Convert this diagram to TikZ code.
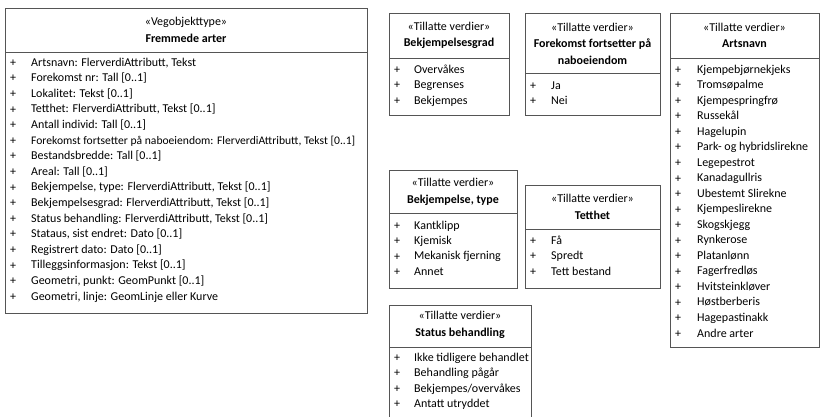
\documentclass[tikz,border=0pt]{standalone}
\usepackage{fontspec}
\setmainfont{Carlito}
\definecolor{umlGray}{RGB}{85,85,85}
\usepackage{tikz}

\begin{document}
\begin{tikzpicture}[x=1pt, y=-1pt,
    umlbox/.style={rectangle, draw=umlGray, line width=0.8pt, anchor=north west, inner sep=0pt},
    divider/.style={draw=umlGray, line width=0.8pt},
    head/.style={align=center, inner sep=0pt, font=\fontsize{12}{16.5}\selectfont},
    plus/.style={inner sep=0pt, font=\fontsize{12}{12}\selectfont},
    item/.style={anchor=west, inner sep=0pt, text height=8.5pt, text depth=2.5pt, font=\fontsize{12}{12}\selectfont}
]
\useasboundingbox (0,0) rectangle (821,416);

% Vegobjekttype
\node[umlbox, minimum width=362pt, minimum height=305pt] (arter) at (5,8) {};
\node[head] (arterHead) at (186,30) {«Vegobjekttype»\\\textbf{Fremmede arter}};
\draw[divider] (arter.west |- 0,52) -- (arter.east |- 0,52);
\foreach \txt [count=\i from 0] in {{Artsnavn: FlerverdiAttributt, Tekst}, {Forekomst nr: Tall [0..1]}, {Lokalitet: Tekst [0..1]}, {Tetthet: FlerverdiAttributt, Tekst [0..1]}, {Antall individ: Tall [0..1]}, {\fontsize{11.6}{12}\selectfont Forekomst fortsetter på naboeiendom: FlerverdiAttributt, Tekst [0..1]}, {Bestandsbredde: Tall [0..1]}, {Areal: Tall [0..1]}, {Bekjempelse, type: FlerverdiAttributt, Tekst [0..1]}, {Bekjempelsesgrad: FlerverdiAttributt, Tekst [0..1]}, {Status behandling: FlerverdiAttributt, Tekst [0..1]}, {Stataus, sist endret: Dato [0..1]}, {Registrert dato: Dato [0..1]}, {Tilleggsinformasjon: Tekst [0..1]}, {Geometri, punkt: GeomPunkt [0..1]}, {Geometri, linje: GeomLinje eller Kurve}} {
  \node[plus] (arterPlus\i) at (13,{63+15.6*\i}) {+};
  \node[item] (arterAttr\i) at (31,{63+15.6*\i}) {\txt};
}

% Bekjempelsesgrad
\node[umlbox, minimum width=120pt, minimum height=102pt] (grad) at (389,13) {};
\node[head] (gradHead) at (449,35.5) {«Tillatte verdier»\\\textbf{Bekjempelsesgrad}};
\draw[divider] (grad.west |- 0,58) -- (grad.east |- 0,58);
\foreach \txt [count=\i from 0] in {Overvåkes, Begrenses, Bekjempes} {
  \node[plus] (gradPlus\i) at (397,{70+15.6*\i}) {+};
  \node[item] (gradVal\i) at (414,{70+15.6*\i}) {\txt};
}

% Forekomst fortsetter paa naboeiendom
\node[umlbox, minimum width=135pt, minimum height=102pt] (nabo) at (525,13) {};
\node[head] (naboHead) at (592.5,43.5) {«Tillatte verdier»\\\textbf{Forekomst fortsetter på}\\\textbf{naboeiendom}};
\draw[divider] (nabo.west |- 0,73) -- (nabo.east |- 0,73);
\foreach \txt [count=\i from 0] in {Ja, Nei} {
  \node[plus] (naboPlus\i) at (533,{86+15.6*\i}) {+};
  \node[item] (naboVal\i) at (551,{86+15.6*\i}) {\txt};
}

% Artsnavn
\node[umlbox, minimum width=149pt, minimum height=334pt] (navn) at (670,13) {};
\node[head] (navnHead) at (744.5,35.5) {«Tillatte verdier»\\\textbf{Artsnavn}};
\draw[divider] (navn.west |- 0,58) -- (navn.east |- 0,58);
\foreach \txt [count=\i from 0] in {Kjempebjørnekjeks, Tromsøpalme, Kjempespringfrø, Russekål, Hagelupin, Park- og hybridslirekne, Legepestrot, Kanadagullris, Ubestemt Slirekne, Kjempeslirekne, Skogskjegg, Rynkerose, Platanlønn, Fagerfredløs, Hvitsteinkløver, Høstberberis, Hagepastinakk, Andre arter} {
  \node[plus] (navnPlus\i) at (678,{70+15.53*\i}) {+};
  \node[item] (navnVal\i) at (697,{70+15.53*\i}) {\txt};
}

% Bekjempelse, type
\node[umlbox, minimum width=128pt, minimum height=118pt] (type) at (389,170) {};
\node[head] (typeHead) at (453,192) {«Tillatte verdier»\\\textbf{Bekjempelse, type}};
\draw[divider] (type.west |- 0,213) -- (type.east |- 0,213);
\foreach \txt [count=\i from 0] in {Kantklipp, Kjemisk, Mekanisk fjerning, Annet} {
  \node[plus] (typePlus\i) at (397,{226+15.4*\i}) {+};
  \node[item] (typeVal\i) at (414,{226+15.4*\i}) {\txt};
}

% Tetthet
\node[umlbox, minimum width=135pt, minimum height=103pt] (tett) at (525,185) {};
\node[head] (tettHead) at (592.5,207) {«Tillatte verdier»\\\textbf{Tetthet}};
\draw[divider] (tett.west |- 0,229) -- (tett.east |- 0,229);
\foreach \txt [count=\i from 0] in {Få, Spredt, Tett bestand} {
  \node[plus] (tettPlus\i) at (533,{241+15.5*\i}) {+};
  \node[item] (tettVal\i) at (551,{241+15.5*\i}) {\txt};
}

% Status behandling (cut off at the bottom)
\coordinate (statusNW) at (389,305);
\coordinate (statusNE) at (531,305);
\draw[divider] (statusNW |- 0,417) -- (statusNW) -- (statusNE) -- (statusNE |- 0,417);
\node[head] (statusHead) at (460,325) {«Tillatte verdier»\\\textbf{Status behandling}};
\draw[divider] (statusNW |- 0,347) -- (statusNE |- 0,347);
\foreach \txt [count=\i from 0] in {Ikke tidligere behandlet, Behandling pågår, Bekjempes/overvåkes, Antatt utryddet} {
  \node[plus] (statusPlus\i) at (397,{358+15.5*\i}) {+};
  \node[item] (statusVal\i) at (414,{358+15.5*\i}) {\txt};
}
\end{tikzpicture}
\end{document}
